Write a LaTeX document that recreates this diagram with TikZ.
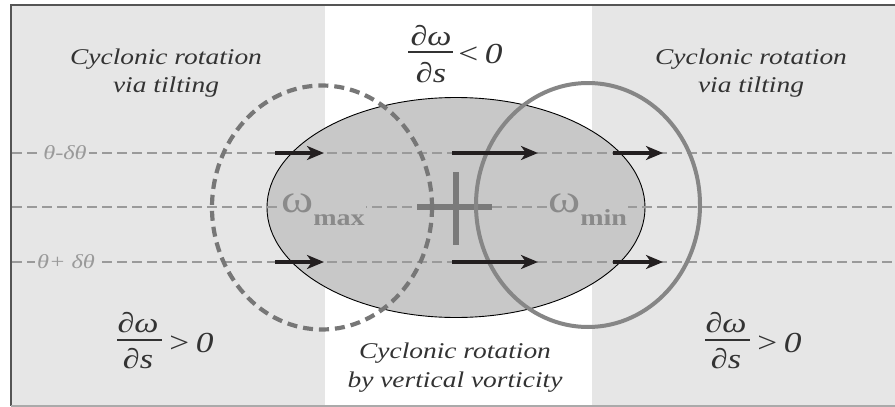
\documentclass[tikz,border=0pt]{standalone}
\usepackage{fontspec}
\setmainfont{Liberation Serif}[FakeStretch=1.22]
\usetikzlibrary{arrows.meta}
\definecolor{bggray}{HTML}{E6E6E6}
\definecolor{ellgray}{HTML}{C8C8C8}
\definecolor{linegray}{HTML}{9A9A9A}
\definecolor{dashcirc}{HTML}{777777}
\definecolor{solidcirc}{HTML}{868686}
\definecolor{crossc}{HTML}{7A7A7A}
\definecolor{omegagray}{HTML}{8A8A8A}
\definecolor{txtgray}{HTML}{333333}
\definecolor{arrowblack}{HTML}{231F20}
\definecolor{framedark}{HTML}{555555}
\definecolor{framelight}{HTML}{AAAAAA}
\begin{document}
\begin{tikzpicture}[x=1pt,y=-1pt,
  txt/.style={font=\fontsize{22.5}{27}\selectfont\itshape, text=txtgray, anchor=base, inner sep=0pt},
  fracpart/.style={font=\fontsize{28}{28}\selectfont\itshape, text=txtgray, anchor=base, inner sep=0pt},
  relpart/.style={font=\fontsize{29}{29}\selectfont\itshape, text=txtgray, anchor=base west, inner sep=0pt},
  fracbar/.style={draw=txtgray, line width=1.6pt},
  isoline/.style={draw=linegray, line width=2.3pt, dash pattern=on 10pt off 5pt},
  thetalbl/.style={font=\fontsize{20}{20}\selectfont\itshape, text=linegray, fill=bggray, inner sep=2pt},
  omegalbl/.style={font=\fontsize{40}{40}\selectfont, text=omegagray, fill=ellgray, anchor=base west, inner sep=1pt},
  flow/.style={draw=arrowblack, line width=3.2pt, -{Stealth[length=17pt, width=14pt, inset=5pt]}},
  crossbar/.style={draw=crossc, line width=6pt},
]
\useasboundingbox (0,0) rectangle (895,407);
% backgrounds
\fill[bggray] (11,5) rectangle (895,406);
\fill[white] (325,5) rectangle (592,406);
\draw[framedark, line width=2pt] (10,4.5) -- (895,4.5);
\draw[framedark, line width=2pt] (11,4.5) -- (11,406);
\draw[framelight, line width=2pt] (11,406) -- (895,406);
% ellipse
\draw[fill=ellgray, draw=black, line width=0.9pt] (456,207.5) ellipse [x radius=189pt, y radius=110pt];
% isentropes
\coordinate (l1s) at (12,153); \coordinate (l1e) at (895,153);
\coordinate (l2s) at (12,207); \coordinate (l2e) at (895,207);
\coordinate (l3s) at (12,262); \coordinate (l3e) at (895,262);
\draw[isoline] (l1s) -- (l1e);
\draw[isoline] (l2s) -- (l2e);
\draw[isoline] (l3s) -- (l3e);
\node[thetalbl] (th1) at (65,153) {θ-δθ};
\node[thetalbl] (th2) at (66,262) {θ+ δθ};
% omega labels
\node[omegalbl] (wmax) at (280,212) {ω\raisebox{-13pt}{\fontsize{23}{23}\selectfont\bfseries max}};
\node[omegalbl] (wmin) at (547,212) {ω\raisebox{-13pt}{\fontsize{23}{23}\selectfont\bfseries min}};
% cross
\coordinate (chl) at (417,207); \coordinate (chr) at (492,207);
\coordinate (cvt) at (456,172); \coordinate (cvb) at (456,245);
\draw[crossbar] (chl) -- (chr);
\draw[crossbar] (cvt) -- (cvb);
% circles
\draw[dashcirc, line width=4.2pt, dash pattern=on 10pt off 6pt] (322,207.5) ellipse [x radius=110pt, y radius=122pt];
\draw[solidcirc, line width=4pt] (588,205) ellipse [x radius=112pt, y radius=122pt];
% arrows
\coordinate (a1s) at (275,153); \coordinate (a1e) at (324,153);
\coordinate (a2s) at (452,153); \coordinate (a2e) at (538,153);
\coordinate (a3s) at (613,153); \coordinate (a3e) at (663,153);
\coordinate (b1s) at (275,262); \coordinate (b1e) at (324,262);
\coordinate (b2s) at (452,262); \coordinate (b2e) at (538,262);
\coordinate (b3s) at (613,262); \coordinate (b3e) at (663,262);
\draw[flow] (a1s) -- (a1e);
\draw[flow] (a2s) -- (a2e);
\draw[flow] (a3s) -- (a3e);
\draw[flow] (b1s) -- (b1e);
\draw[flow] (b2s) -- (b2e);
\draw[flow] (b3s) -- (b3e);
% texts
\node[txt] (tl1) at (166,64) {Cyclonic rotation};
\node[txt] (tl2) at (166,92) {via tilting};
\node[txt] (tr1) at (751,64) {Cyclonic rotation};
\node[txt] (tr2) at (751,92) {via tilting};
\node[txt] (bm1) at (455,358) {Cyclonic rotation};
\node[txt] (bm2) at (455,387) {by vertical vorticity};
% fractions
\node[fracpart] (ftn) at (431,45) {∂ω};
\node[fracpart] (ftd) at (431,82) {∂s};
\coordinate (ftbl) at (408,52); \coordinate (ftbr) at (453,52);
\draw[fracbar] (ftbl) -- (ftbr);
\node[relpart] (ftr) at (456,63) {<\,0};
\node[fracpart] (fln) at (138,332) {∂ω};
\node[fracpart] (fld) at (138,368) {∂s};
\coordinate (flbl) at (117,340); \coordinate (flbr) at (162,340);
\draw[fracbar] (flbl) -- (flbr);
\node[relpart] (flr) at (167,352) {>\,0};
\node[fracpart] (frn) at (726,332) {∂ω};
\node[fracpart] (frd) at (726,368) {∂s};
\coordinate (frbl) at (705,340); \coordinate (frbr) at (750,340);
\draw[fracbar] (frbl) -- (frbr);
\node[relpart] (frr) at (755,352) {>\,0};
\end{tikzpicture}
\end{document}
